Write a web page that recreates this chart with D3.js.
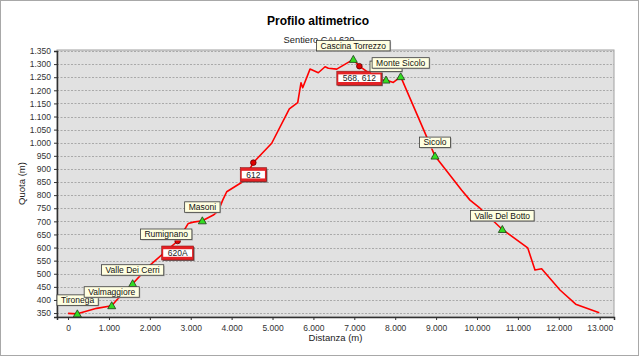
<!DOCTYPE html>
<html><head><meta charset="utf-8">
<script src="https://cdn.jsdelivr.net/npm/d3@7"></script>
<style>body{margin:0;background:#fff}svg{display:block;font-family:"Liberation Sans",Arial,sans-serif}</style>
</head><body>
<svg id="c" width="640" height="357"></svg>
<script>
// ---- data ----
const distances = [0,227,700,1068,1190,1580,2005,2680,2940,3064,3284,3553,3675,3782,3880,4271,4531,4980,5411,5616,5697,5738,5917,6120,6284,6365,6570,6976,7123,7278,7628,7775,7954,8134,8973,9626,9829,10073,10619,11240,11418,11580,12029,12413,12990];
const elevations = [349,347,368,378,400,462,533,625,692,697,702,724,740,781,813,851,924,998,1129,1153,1229,1210,1281,1267,1290,1284,1281,1318,1292,1275,1239,1239,1230,1252,949,819,781,750,669,599,514,519,438,384,351];
const waypointNames = ["Tironega","Valmaggiore","Valle Dei Cerri","Masoni","Cascina Torrezzo","","Monte Sicolo","Sicolo","Valle Del Botto"];
const waypointDist  = [227,1068,1580,3284,6976,7775,8134,8973,10619];
const waypointElev  = [347,378,462,702,1318,1239,1252,949,669];
const junctionNames = ["Rumignano","",""];
const junctionPaths = ["620A","612","568, 612"];
const junctionDist  = [2680,4531,7123];
const junctionElev  = [625,924,1292];
const yTicks = d3.range(350,1351,50);
const xTicks = d3.range(0,13001,1000);
const title = "Profilo altimetrico", subtitle = "Sentiero CAI 620";
const xTitle = "Distanza (m)", yTitle = "Quota (m)";

// ---- layout ----
const svg = d3.select("#c");
const L=57,R=614,T=50,B=317;
const x = d3.scaleLinear().domain([-270,13350]).range([L,R]);
const y = d3.scaleLinear().domain([335,1350]).range([B,51]);
const fmt = v => d3.format(",")(v).replace(/,/g,".");

svg.append("rect").attr("x",0.5).attr("y",0.5).attr("width",638).attr("height",355)
  .attr("fill","#fff").attr("stroke","#a8a8a8");

svg.append("text").attr("x",318).attr("y",25).attr("text-anchor","middle")
  .attr("font-size",12).attr("font-weight","bold").attr("fill","#000").text(title);
svg.append("text").attr("x",319).attr("y",43).attr("text-anchor","middle")
  .attr("font-size",9.3).attr("fill","#222").text(subtitle);

svg.append("rect").attr("x",L).attr("y",T).attr("width",R-L).attr("height",B-T)
  .attr("fill","#e1e1e1").attr("stroke","#a0a0a0");

// grid
svg.append("g").selectAll("line").data(yTicks).join("line")
  .attr("x1",L).attr("x2",R).attr("y1",d=>Math.round(y(d))+0.5).attr("y2",d=>Math.round(y(d))+0.5)
  .attr("stroke","#9a9a9a").attr("stroke-dasharray","2,1.5").attr("stroke-width",0.8);

// axes
const ya = svg.append("g").attr("transform",`translate(${L},0)`)
  .call(d3.axisLeft(y).tickValues(yTicks).tickSize(3).tickFormat(fmt));
const xa = svg.append("g").attr("transform",`translate(0,${B})`)
  .call(d3.axisBottom(x).tickValues(xTicks).tickSize(3).tickFormat(fmt));
[ya,xa].forEach(a=>{
  a.select(".domain").attr("stroke","#303030").attr("stroke-width",1.5);
  a.selectAll(".tick line").attr("stroke","#303030");
  a.selectAll("text").attr("font-size",8.5).attr("fill","#333").attr("font-family","Liberation Sans,Arial,sans-serif");
});
xa.selectAll("text").attr("dy","0.95em");

svg.append("text").attr("x",(L+R)/2).attr("y",341).attr("text-anchor","middle")
  .attr("font-size",9.5).attr("fill","#222").text(xTitle);
svg.append("text").attr("transform",`translate(25,${(T+B)/2}) rotate(-90)`).attr("text-anchor","middle")
  .attr("font-size",9.5).attr("fill","#222").text(yTitle);

// profile line
const pts = distances.map((d,i)=>[d,elevations[i]]);
svg.append("path").datum(pts)
  .attr("d",d3.line().x(d=>x(d[0])).y(d=>y(d[1])))
  .attr("fill","none").attr("stroke","#ff0000").attr("stroke-width",1.6).attr("stroke-linejoin","round");

// junction dots
const junctions = junctionDist.map((d,i)=>({d, e:junctionElev[i], name:junctionNames[i], path:junctionPaths[i]}));
svg.append("g").selectAll("circle").data(junctions).join("circle")
  .attr("cx",j=>x(j.d)).attr("cy",j=>y(j.e)).attr("r",2.8)
  .attr("fill","#e00000").attr("stroke","#5a0000").attr("stroke-width",0.8);

// waypoint triangles
const wps = waypointDist.map((d,i)=>({d, e:waypointElev[i], name:waypointNames[i]}));
svg.append("g").selectAll("path").data(wps).join("path")
  .attr("transform",w=>`translate(${x(w.d)},${y(w.e)})`)
  .attr("d","M0,-4 L4,3 L-4,3 Z").attr("fill","#33dd22").attr("stroke","#1f3a1a").attr("stroke-width",0.8);

// path boxes (red-white-red)
const pg = svg.append("g");
junctions.forEach(j=>{
  const t = pg.append("text").attr("font-size",8.5).attr("text-anchor","middle").text(j.path);
  const w = t.node().getComputedTextLength()+12, h=14;
  const cx = x(j.d), top = y(j.e)+5;
  pg.insert("rect","text").attr("x",cx-w/2+1).attr("y",top+1).attr("width",w).attr("height",h).attr("fill","#6a6a6a");
  pg.insert("rect","text").attr("x",cx-w/2).attr("y",top).attr("width",w).attr("height",h).attr("fill","#e52125").attr("stroke","#8a1a1a").attr("stroke-width",0.6);
  pg.insert("rect","text").attr("x",cx-w/2+1.5).attr("y",top+3.2).attr("width",w-3).attr("height",h-6.4).attr("fill","#fff");
  t.attr("x",cx).attr("y",top+10).attr("fill","#222");
});

// cream callout labels
const labels = wps.map(w=>({...w, shift:0, lift:-19}))
  .concat(junctions.filter(j=>j.name).map(j=>({d:j.d,e:j.e,name:j.name,shift:-11.5,lift:-12})));
labels.sort((a,b)=>(a.name?1:0)-(b.name?1:0));
const lg = svg.append("g");
labels.forEach(l=>{
  const g = lg.append("g");
  const t = g.append("text").attr("font-size",8.5).attr("text-anchor","middle").text(l.name);
  const tw = l.name ? t.node().getComputedTextLength() : 24;
  const w = tw+8, h=10.5;
  let cx = x(l.d)+l.shift;
  let left = Math.max(L, cx-w/2);
  const top = y(l.e)+l.lift;
  g.insert("rect","text").attr("x",left+1).attr("y",top+1).attr("width",w).attr("height",h).attr("fill","#b0b0b0");
  g.insert("rect","text").attr("x",left).attr("y",top).attr("width",w).attr("height",h)
    .attr("fill","#ffffe1").attr("stroke","#3a3a3a").attr("stroke-width",0.8);
  t.attr("x",left+w/2).attr("y",top+8.3).attr("fill","#111");
});
</script>
</body></html>
